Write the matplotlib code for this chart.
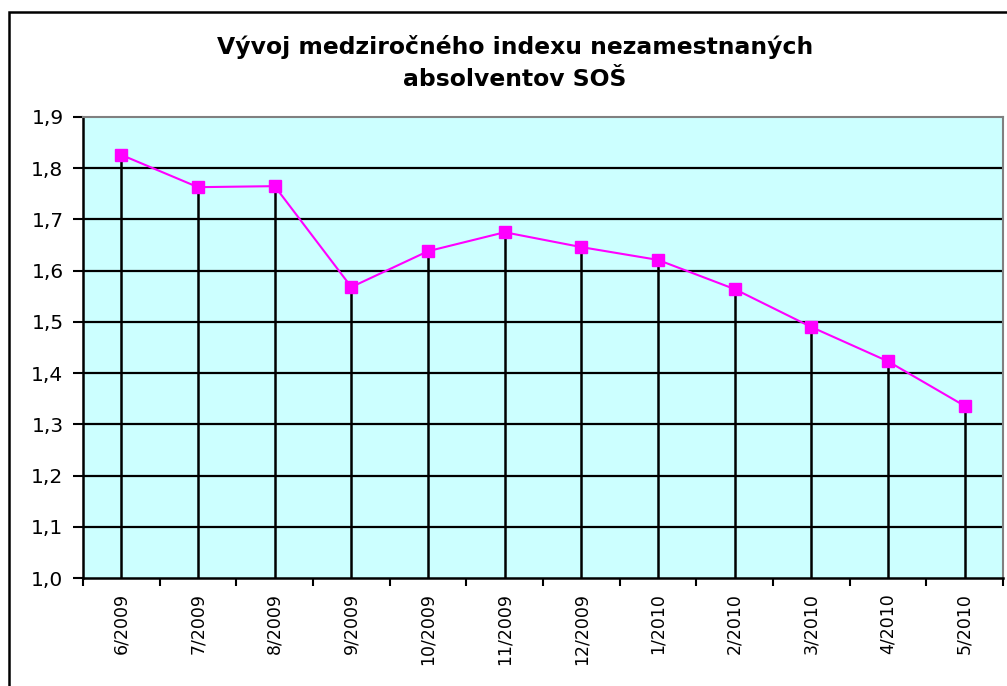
import matplotlib
matplotlib.use("Agg")
import matplotlib.pyplot as plt
from matplotlib.patches import Rectangle

categories = ["6/2009", "7/2009", "8/2009", "9/2009", "10/2009", "11/2009",
              "12/2009", "1/2010", "2/2010", "3/2010", "4/2010", "5/2010"]
values = [1.826, 1.763, 1.765, 1.568, 1.638, 1.675, 1.646, 1.621, 1.564, 1.490, 1.423, 1.336]
yticks = [1.0, 1.1, 1.2, 1.3, 1.4, 1.5, 1.6, 1.7, 1.8, 1.9]
ytick_labels = ["1,0", "1,1", "1,2", "1,3", "1,4", "1,5", "1,6", "1,7", "1,8", "1,9"]
title_lines = ["Vývoj medziročného indexu nezamestnaných", "absolventov SOŠ"]

plt.rcParams['font.family'] = ['DejaVu Sans']

W, H = 1007, 686
fig = plt.figure(figsize=(W / 100, H / 100), dpi=100)
fig.patch.set_facecolor('white')

# outer chart frame (left and top visible, rest cut off)
fig.patches.append(Rectangle((9 / W, -0.05), 1.1, (H - 12) / H + 0.05,
                             transform=fig.transFigure, fill=False,
                             edgecolor='black', linewidth=1.8))

ax = fig.add_axes([83 / W, 1 - 578 / H, (1003 - 83) / W, (578 - 117) / H])
ax.set_facecolor('#ccffff')

x = list(range(len(categories)))
ax.set_xlim(-0.5, len(categories) - 0.5)
ax.set_ylim(1.0, 1.9)

for yv in yticks[1:-1]:
    ax.axhline(yv, color='black', linewidth=1.6, zorder=1)

ax.vlines(x, 1.0, values, colors='black', linewidth=1.8, zorder=2)
ax.plot(x, values, color='#ff00ff', linewidth=1.5, marker='s', markersize=8.5,
        markerfacecolor='#ff00ff', markeredgecolor='#ff00ff', zorder=3)

ax.set_yticks(yticks)
ax.set_yticklabels(ytick_labels, fontsize=14.5)
ax.set_xticks(x)
ax.set_xticklabels(categories, rotation=90, fontsize=12.5)
ax.tick_params(axis='x', length=0, pad=11)
ax.set_xticks([i - 0.5 for i in range(len(categories) + 1)], minor=True)
ax.tick_params(axis='x', which='minor', length=6, width=1.5, color='black')
ax.tick_params(axis='y', length=7, width=1.5, color='black', pad=7)

ax.spines['left'].set_color('black')
ax.spines['left'].set_linewidth(1.8)
ax.spines['bottom'].set_color('black')
ax.spines['bottom'].set_linewidth(1.8)
ax.spines['top'].set_color('#808080')
ax.spines['right'].set_color('#808080')
ax.spines['top'].set_linewidth(1.5)
ax.spines['right'].set_linewidth(1.5)

fig.text(515 / W, 1 - 47 / H, title_lines[0], ha='center', va='center',
         fontsize=16.9, fontweight='bold')
fig.text(515 / W, 1 - 80 / H, title_lines[1], ha='center', va='center',
         fontsize=16.9, fontweight='bold')

fig.savefig("out.png", dpi=100)
